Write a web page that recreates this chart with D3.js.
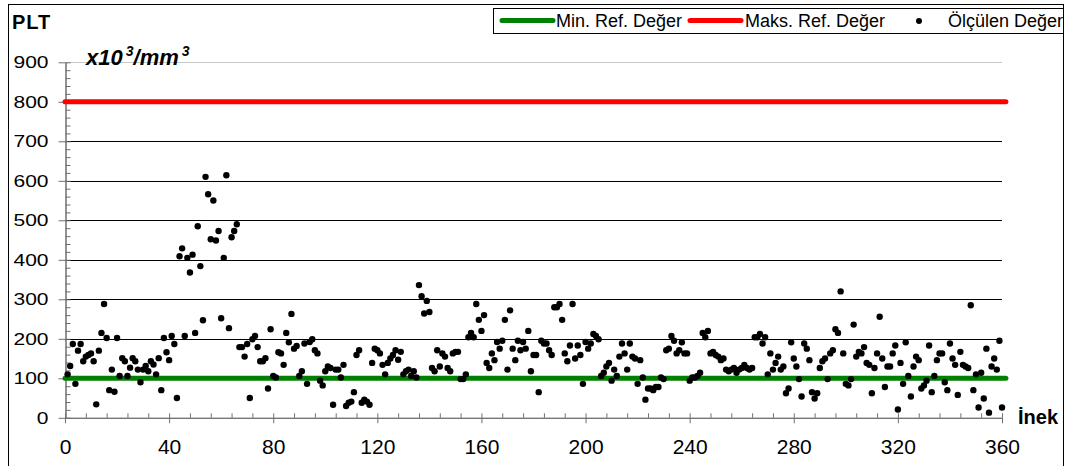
<!DOCTYPE html>
<html><head><meta charset="utf-8">
<script src="https://cdn.jsdelivr.net/npm/d3@7"></script>
<style>
body{margin:0;background:#fff}
svg{display:block}
text{font-family:"Liberation Sans",Arial,sans-serif;fill:#000}
</style>
</head><body>
<svg id="c" width="1069" height="466"></svg>
<script>
// Measured PLT values (x10^3/mm^3), one per cow, in order
const plt1 = [110,131,187,86,170,187,143,155,159,163,
143,34,170,215,288,202,70,122,66,202,
106,151,143,106,127,151,143,122,90,122,
131,118,143,135,110,151,70,202,166,146,
207,187,50,409,429,207,405,368,413,215,
485,384,247,610,566,452,550,449,473,252,
405,614,227,457,473,490,179,179,155,187,
50,199,207,179,143,143,151,74,224,106,
102,166,163,134,215,191,263,175,182,106];
const plt2 = [118,188,86,192,199,171,163,94,82,118,
130,126,33,122,122,102,134,30,38,41,
65,159,171,38,46,41,33,139,175,171,
163,134,110,139,150,159,171,147,167,110,
118,122,106,118,102,336,308,264,296,268,
126,118,171,130,163,155,126,118,163,167,
167,98,98,110,204,215,204,288,248,220,
260,139,126,163,146,192,175,195,248,122,
272,175,146,195,171,192,175,220,118,159];
const plt3 = [159,65,195,188,188,171,159,280,280,288,
248,163,143,183,288,150,183,159,86,192,
175,188,212,207,199,106,114,130,139,94,
122,106,155,188,163,122,188,155,150,86,
146,102,46,74,74,70,78,78,102,98,
171,175,207,195,163,171,191,163,163,94,
102,102,106,114,215,204,220,163,167,159,
155,146,150,122,118,122,126,114,122,126,
134,126,122,126,204,204,212,188,204,110,
163];
const plt4 = [122,139,155,122,130,62,74,191,150,130,
98,54,188,175,146,65,49,62,126,143,
150,98,163,171,224,215,320,163,86,82,
98,236,155,167,163,179,139,134,62,126,
163,256,150,78,130,130,163,183,21,139,
86,191,106,54,130,155,146,74,82,94,
183,65,106,146,163,163,90,70,188,150,
134,58,167,134,130,126,285,70,110,26,
114,49,175,13,130,150,122,195,26];

const plt = plt1.concat(plt2, plt3, plt4);
const inek = plt.map((d, i) => i + 1);

const xTicks = [0,40,80,120,160,200,240,280,320,360];
const yTicks = [0,100,200,300,400,500,600,700,800,900];
const minRef = 100;
const maxRef = 800;
const refSpan = [0, 361.5];
const legendLabels = ["Min. Ref. Değer", "Maks. Ref. Değer", "Ölçülen Değer"];
const titleText = "PLT";
const xAxisTitle = "İnek";

(function () {
const svg = d3.select("#c");
const W = 1069, H = 466;
const pL = 65, pR = 1002, pT = 62.3, pB = 417.8;

const x = d3.scaleLinear().domain([0, 360]).range([pL, pR]);
const y = d3.scaleLinear().domain([0, 900]).range([pB, pT]);

svg.append("rect").attr("width", W).attr("height", H).attr("fill", "#fff");
// outer border
svg.append("rect").attr("x", 8.5).attr("y", 4.5).attr("width", 1055).attr("height", 470)
  .attr("fill", "none").attr("stroke", "#000").attr("stroke-width", 1);

// gridlines
svg.append("g").selectAll("line").data(yTicks.filter(d => d > 0)).join("line")
  .attr("x1", x(0)).attr("x2", x(360))
  .attr("y1", d => Math.round(y(d)) + 0.5).attr("y2", d => Math.round(y(d)) + 0.5)
  .attr("stroke", d => d === 900 ? "#c8c8c8" : "#000").attr("stroke-width", 1);

// y axis: major ticks outward with labels, minor inward
const yMajor = svg.append("g").attr("transform", `translate(${pL + 0.5},0)`)
  .call(d3.axisLeft(y).tickValues(yTicks).tickSize(7).tickSizeOuter(0).tickPadding(10));
const yMinor = svg.append("g").attr("transform", `translate(${pL + 0.5},0)`)
  .call(d3.axisRight(y).tickValues(d3.range(0, 901, 20)).tickSize(5).tickSizeOuter(0).tickFormat(""));
[yMajor, yMinor].forEach(g => {
  g.select(".domain").attr("stroke", "#707070");
  g.selectAll(".tick line").attr("stroke", "#707070");
});
yMajor.selectAll(".tick text").attr("font-size", 21).attr("transform", "scale(1,0.8)")
  .attr("font-family", "Liberation Sans, Arial, sans-serif").attr("fill", "#000");

// x axis
const xMajor = svg.append("g").attr("transform", `translate(0,${pB})`)
  .call(d3.axisBottom(x).tickValues(xTicks).tickSize(5.5).tickSizeOuter(0).tickPadding(16));
const xMinor = svg.append("g").attr("transform", `translate(0,${pB})`)
  .call(d3.axisTop(x).tickValues(d3.range(0, 361, 8)).tickSize(4.5).tickSizeOuter(0).tickFormat(""));
[xMajor, xMinor].forEach(g => {
  g.select(".domain").attr("stroke", "#707070");
  g.selectAll(".tick line").attr("stroke", "#707070");
});
xMajor.selectAll(".tick text").attr("font-size", 21)
  .attr("font-family", "Liberation Sans, Arial, sans-serif").attr("fill", "#000");

// reference lines
const refLine = d3.line().x(d => x(d[0])).y(d => y(d[1]));
svg.append("path").datum(refSpan.map(v => [v, maxRef])).attr("d", refLine)
  .attr("stroke", "#ff0000").attr("stroke-width", 5).attr("fill", "none").attr("stroke-linecap", "round");
svg.append("path").datum(refSpan.map(v => [v, minRef])).attr("d", refLine)
  .attr("stroke", "#008000").attr("stroke-width", 5).attr("fill", "none").attr("stroke-linecap", "round");

// measured points
svg.append("g").selectAll("circle").data(plt).join("circle")
  .attr("cx", (d, i) => x(inek[i])).attr("cy", d => y(d)).attr("r", 3.2).attr("fill", "#000");

// titles
svg.append("text").attr("x", 12).attr("y", 29).attr("font-size", 20).attr("font-weight", "bold")
  .attr("letter-spacing", 1).text(titleText);
const ut = svg.append("text").attr("x", 86).attr("y", 65).attr("font-size", 22)
  .attr("font-weight", "bold").attr("font-style", "italic");
ut.append("tspan").text("x10");
ut.append("tspan").attr("font-size", 14).attr("dy", -9).attr("dx", 3).text("3");
ut.append("tspan").attr("dy", 9).text("/mm");
ut.append("tspan").attr("font-size", 14).attr("dy", -9).attr("dx", 3).text("3");
svg.append("text").attr("x", 1018).attr("y", 424).attr("font-size", 20).attr("font-weight", "bold")
  .text(xAxisTitle);

// legend
const lg = svg.append("g");
lg.append("rect").attr("x", 493.5).attr("y", 8.5).attr("width", 570).attr("height", 25)
  .attr("fill", "#fff").attr("stroke", "#000");
lg.append("line").attr("x1", 502).attr("x2", 553).attr("y1", 20.5).attr("y2", 20.5)
  .attr("stroke", "#008000").attr("stroke-width", 5).attr("stroke-linecap", "round");
lg.append("text").attr("x", 556).attr("y", 27).attr("font-size", 18).text(legendLabels[0]);
lg.append("line").attr("x1", 690).attr("x2", 741).attr("y1", 20.5).attr("y2", 20.5)
  .attr("stroke", "#ff0000").attr("stroke-width", 5).attr("stroke-linecap", "round");
lg.append("text").attr("x", 745).attr("y", 27).attr("font-size", 18).text(legendLabels[1]);
lg.append("circle").attr("cx", 919).attr("cy", 21).attr("r", 3).attr("fill", "#000");
lg.append("text").attr("x", 948).attr("y", 27).attr("font-size", 18).text(legendLabels[2]);
})();
</script>
</body></html>
